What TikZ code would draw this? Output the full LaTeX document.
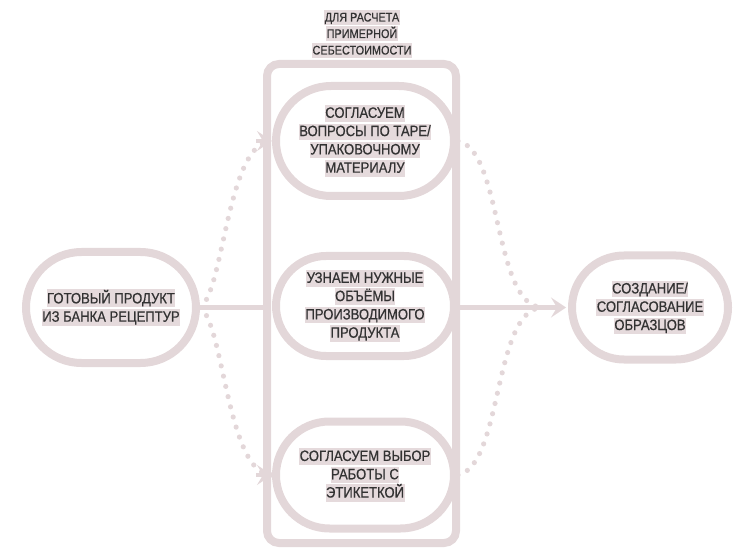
\documentclass[tikz,border=0pt]{standalone}
\usepackage{fontspec}
\setmainfont[FakeStretch=0.87,FakeBold=0.6]{Liberation Sans}
\usetikzlibrary{arrows.meta,calc}
\definecolor{ln}{RGB}{227,215,217}
\definecolor{hlc}{RGB}{229,218,220}
\definecolor{tx}{RGB}{50,50,50}
\newcommand\hlbig[1]{{\setlength{\fboxsep}{0.5pt}\colorbox{hlc}{\rule[-3.5pt]{0pt}{15.5pt}#1}}}
\newcommand\hlsmall[1]{{\setlength{\fboxsep}{0.5pt}\colorbox{hlc}{\rule[-3pt]{0pt}{14pt}#1}}}
\tikzset{
  stad/.style={draw=ln, line width=8pt, align=center, text=tx, inner sep=0pt,
    font=\fontsize{15}{18.3}\selectfont},
  frame/.style={draw=ln, line width=8pt, rounded corners=12pt, inner sep=0pt},
  lbl/.style={align=center, text=tx, inner sep=0pt, font=\fontsize{12.5}{16.5}\selectfont},
  conn/.style={draw=ln, line width=4.5pt},
  dots/.style={draw=ln, line width=5.2pt, line cap=round, dash pattern=on 0pt off 10.5pt},
  tip/.style={-{Stealth[length=15pt,width=20pt,inset=6pt]}}
}
\begin{document}
\begin{tikzpicture}[x=1pt,y=-1pt]
\useasboundingbox (0,0) rectangle (733,553);
\node[frame, minimum width=189pt, minimum height=479pt] (frame) at (361.5,303.5) {};
\node[lbl] (label) at (362,34) {\hlsmall{ДЛЯ РАСЧЕТА}\\\hlsmall{ПРИМЕРНОЙ}\\\hlsmall{СЕБЕСТОИМОСТИ}};
\node[stad, minimum width=178pt, minimum height=110pt, rounded corners=55pt] (top) at (365,141)
  {\hlbig{СОГЛАСУЕМ}\\\hlbig{ВОПРОСЫ ПО ТАРЕ/}\\\hlbig{УПАКОВОЧНОМУ}\\\hlbig{МАТЕРИАЛУ}};
\node[stad, minimum width=178pt, minimum height=100pt, rounded corners=50pt] (mid) at (365,306)
  {\hlbig{УЗНАЕМ НУЖНЫЕ}\\\hlbig{ОБЪЁМЫ}\\\hlbig{ПРОИЗВОДИМОГО}\\\hlbig{ПРОДУКТА}};
\node[stad, minimum width=178pt, minimum height=107pt, rounded corners=53.5pt] (bot) at (365,475)
  {\hlbig{СОГЛАСУЕМ ВЫБОР}\\\hlbig{РАБОТЫ С}\\\hlbig{ЭТИКЕТКОЙ}};
\node[stad, minimum width=170pt, minimum height=111pt, rounded corners=55.5pt] (left) at (111,307.5)
  {\hlbig{ГОТОВЫЙ ПРОДУКТ}\\\hlbig{ИЗ БАНКА РЕЦЕПТУР}};
\node[stad, minimum width=156pt, minimum height=104pt, rounded corners=52pt] (right) at (650,307.5)
  {\hlbig{СОЗДАНИЕ/}\\\hlbig{СОГЛАСОВАНИЕ}\\\hlbig{ОБРАЗЦОВ}};
\draw[conn] (left.east) -- (left.east -| frame.west);
\draw[conn, tip] (right.west -| frame.east) -- ($(right.west)+(-2,0)$);
\coordinate (m) at ($(right.west)+(-25,0)$);
\draw[dots] (left.east) .. controls ($(left.east)+(24,-15)$) and ($(top.west)+(-45,0)$) .. (top.west);
\draw[dots] (left.east) .. controls ($(left.east)+(24,15)$) and ($(bot.west)+(-45,0)$) .. (bot.west);
\draw[conn, tip] ($(top.west)+(-16,0)$) -- (top.west);
\draw[conn, tip] ($(bot.west)+(-16,0)$) -- (bot.west);
\draw[dots] (top.east) .. controls ($(top.east)+(45,9)$) and ($(m)+(-50,0)$) .. (m);
\draw[dots] (bot.east) .. controls ($(bot.east)+(45,-9)$) and ($(m)+(-50,0)$) .. (m);
\end{tikzpicture}
\end{document}
